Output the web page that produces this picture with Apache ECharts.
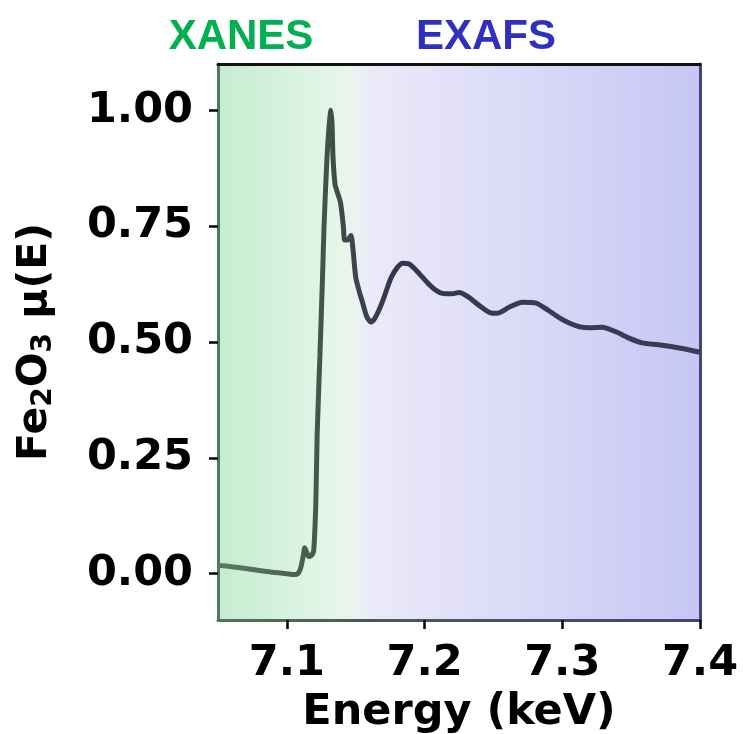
<!DOCTYPE html>
<html>
<head>
<meta charset="utf-8">
<script src="https://cdn.jsdelivr.net/npm/echarts@6/dist/echarts.min.js"></script>
<style>
  html, body { margin: 0; padding: 0; background: #ffffff; }
  #chart { width: 743px; height: 734px; }
</style>
</head>
<body>
<div id="chart"></div>
<script>
// Fe2O3 K-edge absorption spectrum, energy in keV
const energy = [
  7.050, 7.060, 7.070, 7.080, 7.090, 7.100, 7.105, 7.108, 7.110, 7.112,
  7.113, 7.1145, 7.116, 7.118, 7.1195, 7.121, 7.122, 7.124, 7.126, 7.127,
  7.129, 7.1305, 7.132, 7.1328, 7.1335, 7.135, 7.137, 7.139, 7.141, 7.142,
  7.144, 7.1465, 7.148, 7.150, 7.1525, 7.1545, 7.158, 7.161, 7.164, 7.169,
  7.1756, 7.180, 7.184, 7.189, 7.196, 7.203, 7.208, 7.213, 7.220, 7.225,
  7.232, 7.240, 7.249, 7.254, 7.262, 7.271, 7.281, 7.290, 7.298, 7.305,
  7.3124, 7.320, 7.329, 7.339, 7.348, 7.358, 7.370, 7.385, 7.400
];
const mu = [
  0.018, 0.015, 0.011, 0.007, 0.003, 0.000, -0.002, 0.000, 0.012, 0.040,
  0.056, 0.045, 0.037, 0.040, 0.050, 0.150, 0.300, 0.470, 0.650, 0.750,
  0.890, 0.960, 1.000, 0.970, 0.900, 0.840, 0.820, 0.800, 0.750, 0.720,
  0.720, 0.730, 0.700, 0.640, 0.610, 0.590, 0.555, 0.543, 0.552, 0.584,
  0.638, 0.660, 0.670, 0.668, 0.648, 0.625, 0.612, 0.605, 0.604, 0.607,
  0.597, 0.578, 0.562, 0.563, 0.576, 0.586, 0.584, 0.568, 0.552, 0.541,
  0.533, 0.531, 0.532, 0.522, 0.509, 0.498, 0.494, 0.487, 0.478
];
const xTicks = [7.1, 7.2, 7.3, 7.4];
const yTicks = [0.00, 0.25, 0.50, 0.75, 1.00];
const regionLabels = ['XANES', 'EXAFS'];

const xMin = 7.05, xMax = 7.4;
const yMin = -0.1, yMax = 1.1;

const G = echarts.graphic.LinearGradient;
const green = '#4d7a57';
const navy = '#44447a';
const tickFont = { fontFamily: 'DejaVu Sans', fontWeight: 'bold', fontSize: 43, color: '#000' };

const points = energy.map((e, i) => [e, mu[i]]);

const chart = echarts.init(document.getElementById('chart'), null, { renderer: 'canvas' });

chart.setOption({
  animation: false,
  title: [
    {
      text: regionLabels[0], left: 236, top: 11, textAlign: 'center',
      textStyle: { fontFamily: 'Liberation Sans', fontWeight: 'bold', fontSize: 42, color: '#00b050' }
    },
    {
      text: regionLabels[1], left: 481, top: 11, textAlign: 'center',
      textStyle: { fontFamily: 'Liberation Sans', fontWeight: 'bold', fontSize: 42, color: '#3030bf' }
    }
  ],
  grid: {
    left: 218, right: 43, top: 64, bottom: 114,
    outerBoundsMode: 'none',
    containLabel: false,
    show: true, borderWidth: 0,
    backgroundColor: new G(0, 0, 1, 0, [
      { offset: 0.00, color: '#c6ecd0' },
      { offset: 0.15, color: '#d8f2df' },
      { offset: 0.26, color: '#e7f6eb' },
      { offset: 0.29, color: '#e9f2f2' },
      { offset: 0.32, color: '#ebeaf9' },
      { offset: 0.60, color: '#dcdbf7' },
      { offset: 1.00, color: '#c6c6f5' }
    ])
  },
  xAxis: [
    {
      type: 'value', min: xMin, max: xMax, position: 'bottom',
      axisLine: { show: true, onZero: false, lineStyle: { width: 3, color: new G(0, 0, 1, 0, [
        { offset: 0, color: green }, { offset: 0.3, color: '#4a5a5a' }, { offset: 1, color: navy }
      ]) } },
      axisTick: { show: true, length: 9, lineStyle: { width: 2.5, color: '#000' }, customValues: xTicks },
      axisLabel: Object.assign({ margin: 22, customValues: xTicks, formatter: v => v.toFixed(1) }, tickFont),
      splitLine: { show: false },
      name: 'Energy (keV)', nameLocation: 'middle', nameGap: 71,
      nameTextStyle: { fontFamily: 'DejaVu Sans', fontWeight: 'bold', fontSize: 43, color: '#000' }
    },
    {
      type: 'value', min: xMin, max: xMax, position: 'top',
      axisLine: { show: true, onZero: false, lineStyle: { width: 3, color: '#111' } },
      axisTick: { show: false }, axisLabel: { show: false }, splitLine: { show: false }
    }
  ],
  yAxis: [
    {
      type: 'value', min: yMin, max: yMax, position: 'left',
      axisLine: { show: true, onZero: false, lineStyle: { width: 3, color: green } },
      axisTick: { show: true, length: 9, lineStyle: { width: 2.5, color: '#000' }, customValues: yTicks },
      axisLabel: Object.assign({ margin: 25, customValues: yTicks, formatter: v => v.toFixed(2) }, tickFont),
      splitLine: { show: false },
      name: '{b|Fe}{s|2}{b|O}{s|3}{b| μ(E)}',
      nameLocation: 'middle', nameGap: 160, nameRotate: 90,
      nameTextStyle: {
        rich: {
          b: { fontFamily: 'DejaVu Sans', fontWeight: 'bold', fontSize: 41, color: '#000' },
          s: { fontFamily: 'DejaVu Sans', fontWeight: 'bold', fontSize: 28, color: '#000', verticalAlign: 'bottom', padding: [18, 0, 0, 0] }
        }
      }
    },
    {
      type: 'value', min: yMin, max: yMax, position: 'right',
      axisLine: { show: true, onZero: false, lineStyle: { width: 3, color: navy } },
      axisTick: { show: false }, axisLabel: { show: false }, splitLine: { show: false }
    }
  ],
  series: [
    {
      type: 'line',
      data: points,
      showSymbol: false,
      smooth: 0.25,
      clip: true,
      lineStyle: {
        width: 5,
        color: new G(0, 0, 1, 0, [
          { offset: 0.00, color: '#5c7b63' },
          { offset: 0.18, color: '#4a604f' },
          { offset: 0.24, color: '#3f4f46' },
          { offset: 0.29, color: '#3d4350' },
          { offset: 0.36, color: '#363650' },
          { offset: 1.00, color: '#3c3c58' }
        ])
      }
    }
  ]
});
</script>
</body>
</html>
